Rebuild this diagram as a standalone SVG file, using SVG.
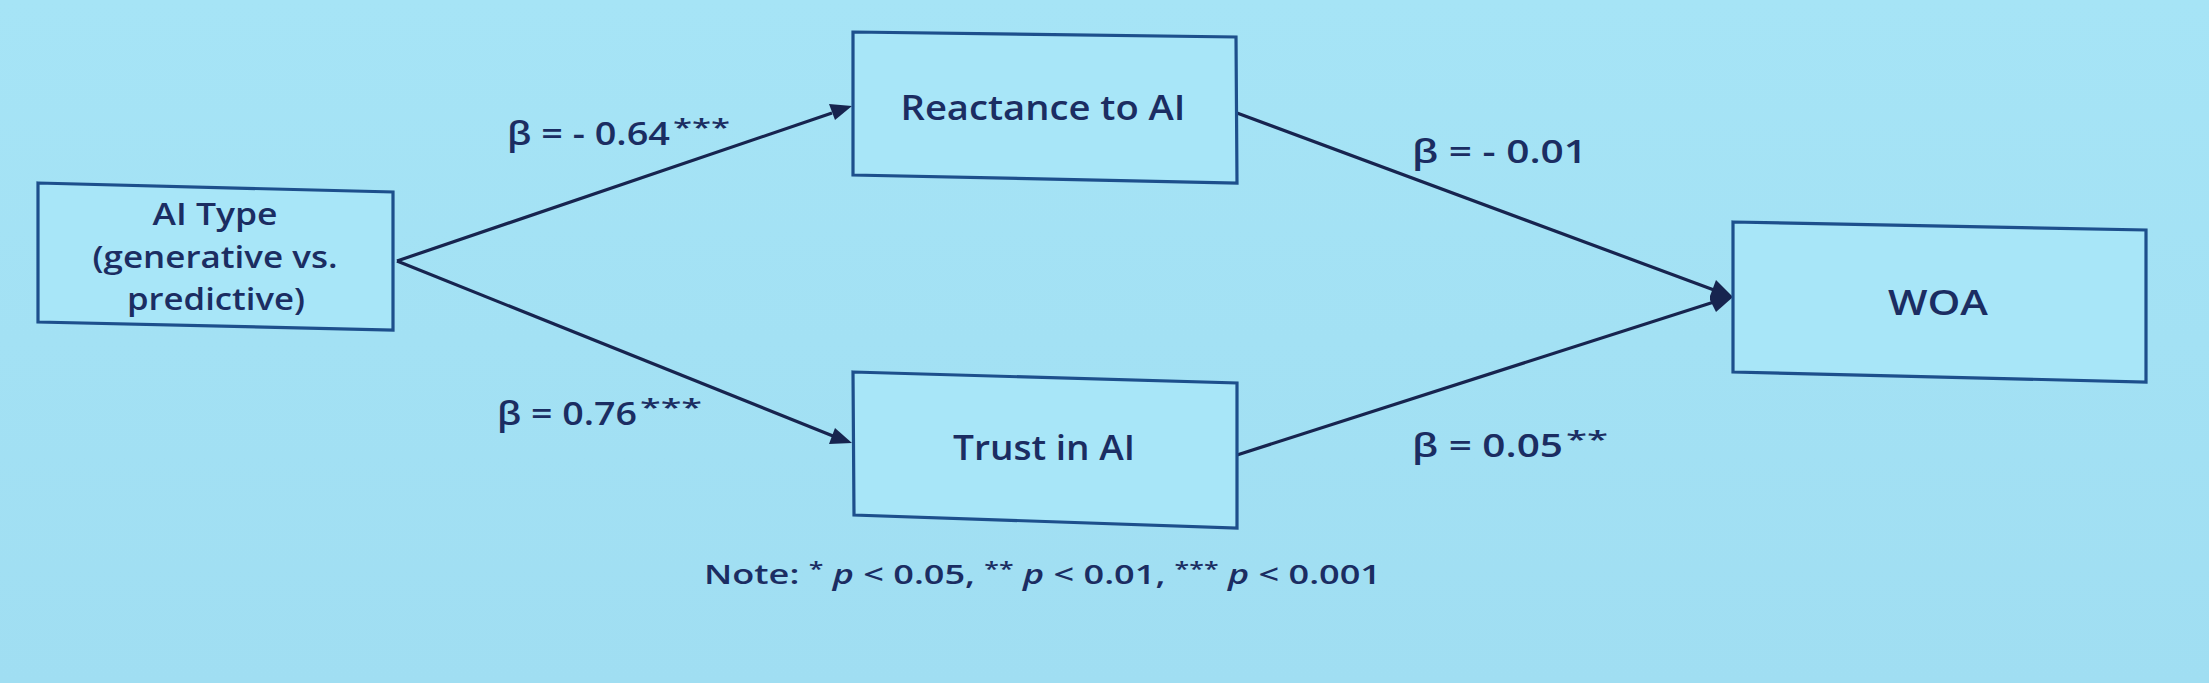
<svg xmlns="http://www.w3.org/2000/svg" width="2209" height="683" viewBox="0 0 2209 683">
<defs>
<linearGradient id="bg" x1="0" y1="0" x2="0" y2="1">
<stop offset="0" stop-color="#a6e4f6"/>
<stop offset="1" stop-color="#a0def2"/>
</linearGradient>
<style>
.box{fill:#a8e6f8;stroke:#1d4f8c;stroke-width:3.2}
.lbl{font-family:"Open Sans","Liberation Sans",sans-serif;font-weight:600;fill:#1b2d62;text-anchor:middle}
.beta{font-family:"Open Sans","Liberation Sans",sans-serif;font-weight:600;fill:#1b2d62;font-size:32px}
.star{font-size:24px}
.conn{stroke:#17244f;stroke-width:3.2;fill:none}
.head{fill:#17244f}
.note{font-family:"Open Sans","Liberation Sans",sans-serif;font-weight:600;fill:#1b2d62;font-size:27px}
</style>
</defs>
<rect x="0" y="0" width="2209" height="683" fill="url(#bg)"/>

<g id="connectors">
<line class="conn" x1="397" y1="261" x2="832" y2="113"/>
<path class="head" d="M852,106 L829,104 L835,120 Z"/>
<line class="conn" x1="397" y1="261" x2="833" y2="436"/>
<path class="head" d="M852,443 L835,428 L829,444 Z"/>
<line class="conn" x1="1237" y1="113" x2="1714" y2="290"/>
<line class="conn" x1="1237" y1="455" x2="1714" y2="302"/>
<path class="head" d="M1733,297 L1716,280 L1710,296 L1710,300 L1716,312 Z"/>
</g>

<g id="node-aitype">
<polygon class="box" points="38,183 393,192 393,330 38,322"/>
<text class="lbl" x="215" y="225" font-size="31" textLength="125" lengthAdjust="spacingAndGlyphs">AI Type</text>
<text class="lbl" x="215" y="268" font-size="31" textLength="245" lengthAdjust="spacingAndGlyphs">(generative vs.</text>
<text class="lbl" x="216" y="310" font-size="31" textLength="178" lengthAdjust="spacingAndGlyphs">predictive)</text>
</g>

<g id="node-reactance">
<polygon class="box" points="853,32 1236,37 1237,183 853,175"/>
<text class="lbl" x="1043" y="120" font-size="34" textLength="285" lengthAdjust="spacingAndGlyphs">Reactance to AI</text>
</g>

<g id="node-trust">
<polygon class="box" points="853,372 1237,383 1237,528 854,515"/>
<text class="lbl" x="1044" y="460" font-size="34" textLength="182" lengthAdjust="spacingAndGlyphs">Trust in AI</text>
</g>

<g id="node-woa">
<polygon class="box" points="1733,222 2146,230 2146,382 1733,372"/>
<text class="lbl" x="1938" y="315" font-size="34" textLength="100" lengthAdjust="spacingAndGlyphs">WOA</text>
</g>

<g id="edge-labels">
<text class="beta" x="507" y="145"><tspan textLength="163" lengthAdjust="spacingAndGlyphs">β = - 0.64</tspan><tspan class="star" x="673" y="136" textLength="57" lengthAdjust="spacingAndGlyphs">***</tspan></text>
<text class="beta" x="497" y="425"><tspan textLength="140" lengthAdjust="spacingAndGlyphs">β = 0.76</tspan><tspan class="star" x="640" y="416" textLength="62" lengthAdjust="spacingAndGlyphs">***</tspan></text>
<text class="beta" x="1412" y="163" textLength="175" lengthAdjust="spacingAndGlyphs">β = - 0.01</text>
<text class="beta" x="1412" y="457"><tspan textLength="151" lengthAdjust="spacingAndGlyphs">β = 0.05</tspan><tspan class="star" x="1566" y="448" textLength="42" lengthAdjust="spacingAndGlyphs">**</tspan></text>
</g>

<g id="note">
<text class="note" x="704" y="584" textLength="677" lengthAdjust="spacingAndGlyphs">Note: <tspan font-size="20" dy="-8">*</tspan><tspan dy="8" font-style="italic"> p</tspan> &lt; 0.05, <tspan font-size="20" dy="-8">**</tspan><tspan dy="8" font-style="italic"> p</tspan> &lt; 0.01, <tspan font-size="20" dy="-8">***</tspan><tspan dy="8" font-style="italic"> p</tspan> &lt; 0.001</text>
</g>
</svg>
